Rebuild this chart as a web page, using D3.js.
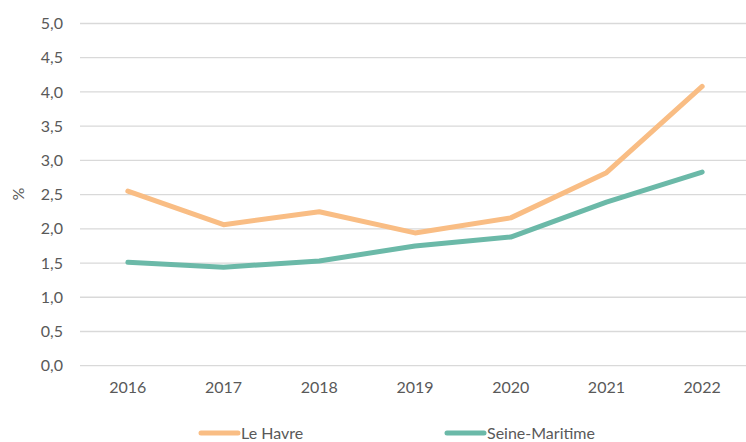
<!DOCTYPE html>
<html>
<head>
<meta charset="utf-8">
<script src="https://cdn.jsdelivr.net/npm/d3@7"></script>
<style>
body{margin:0;background:#fff;}
svg text{font-family:Lato,"Open Sans",sans-serif;fill:#595959;}
</style>
</head>
<body>
<svg id="chart" width="746" height="442"></svg>
<script>
var years = ["2016","2017","2018","2019","2020","2021","2022"];
var leHavre = [2.55, 2.06, 2.25, 1.94, 2.16, 2.82, 4.08];
var seineMaritime = [1.51, 1.44, 1.53, 1.75, 1.88, 2.39, 2.83];
var yTicks = [0, 0.5, 1, 1.5, 2, 2.5, 3, 3.5, 4, 4.5, 5];

var series = [
  {name: "Le Havre", values: leHavre, color: "#f9bd84"},
  {name: "Seine-Maritime", values: seineMaritime, color: "#6bb9a8"}
];

var svg = d3.select("#chart");
var plotLeft = 80, plotRight = 750, plotTop = 23.5, plotBottom = 365.7;

var x = d3.scaleBand().domain(years).range([plotLeft, plotRight]);
var y = d3.scaleLinear().domain([0, 5]).range([plotBottom, plotTop]);

// grid
svg.append("g").selectAll("line").data(yTicks).enter().append("line")
  .attr("x1", plotLeft).attr("x2", plotRight)
  .attr("y1", function(d){ return y(d); }).attr("y2", function(d){ return y(d); })
  .attr("stroke", "#d9d9d9").attr("stroke-width", 1.3);

// y labels
var fmt = function(d){ return d.toFixed(1).replace(".", ","); };
svg.append("g").selectAll("text").data(yTicks).enter().append("text")
  .attr("x", 63).attr("y", function(d){ return y(d); })
  .attr("dy", "0.35em").attr("text-anchor", "end")
  .style("font-size", "16px").text(fmt);

// x labels
svg.append("g").selectAll("text").data(years).enter().append("text")
  .attr("x", function(d){ return x(d) + x.bandwidth()/2; })
  .attr("y", 393).attr("text-anchor", "middle")
  .style("font-size", "16px").text(function(d){ return d; });

// y title
svg.append("text").attr("transform", "translate(24,194) rotate(-90)")
  .attr("text-anchor", "middle").style("font-size", "16px").text("%");

var line = d3.line()
  .x(function(d, i){ return x(years[i]) + x.bandwidth()/2; })
  .y(function(d){ return y(d); });

series.forEach(function(s){
  svg.append("path").datum(s.values)
    .attr("d", line).attr("fill", "none")
    .attr("stroke", s.color).attr("stroke-width", 5)
    .attr("stroke-linecap", "round").attr("stroke-linejoin", "round");
});

// legend
var legX = [201, 447];
series.forEach(function(s, i){
  var g = svg.append("g").attr("transform", "translate(" + legX[i] + ",433)");
  g.append("line").attr("x1", 0).attr("x2", 37).attr("y1", 0).attr("y2", 0)
    .attr("stroke", s.color).attr("stroke-width", 5).attr("stroke-linecap", "round");
  g.append("text").attr("x", 40).attr("dy", "0.35em")
    .style("font-size", "16px").text(s.name);
});
</script>
</body>
</html>
